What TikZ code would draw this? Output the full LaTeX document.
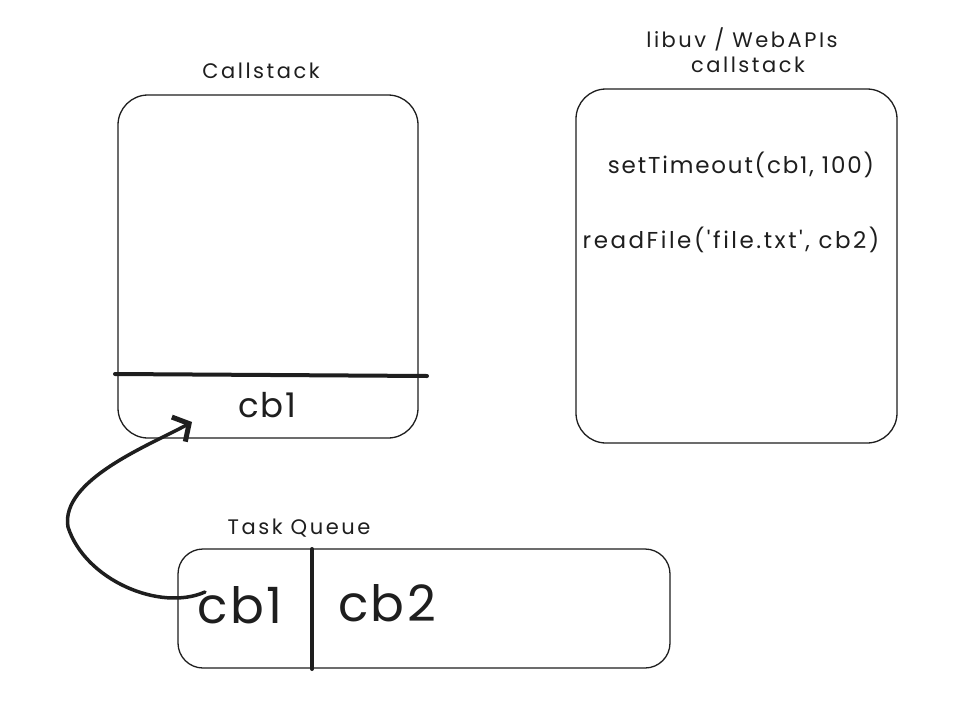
\documentclass[tikz,border=0pt]{standalone}
\usepackage{fontspec}
\setmainfont{Poppins}
\newfontfamily\labelfont[LetterSpace=12]{Poppins}
\newfontfamily\codefont[LetterSpace=8]{Poppins}
\newfontfamily\codewidefont[LetterSpace=11]{Poppins}
\newfontfamily\bigfont[LetterSpace=5]{Poppins}
\usetikzlibrary{arrows.meta}
\definecolor{ink}{HTML}{1E1E1E}
\tikzset{
  box/.style={draw=ink, line width=1.3pt, rounded corners=#1, inner sep=0pt},
  divider/.style={draw=ink, line width=4pt, line cap=round},
  lbl/.style={text=ink, inner sep=0pt, font=\labelfont\fontsize{21}{25}\selectfont},
  code/.style={text=ink, inner sep=0pt, font=\codefont\fontsize{23}{27}\selectfont},
  codewide/.style={text=ink, inner sep=0pt, font=\codewidefont\fontsize{23}{27}\selectfont},
  big/.style={text=ink, inner sep=0pt, font=\bigfont\fontsize{#1}{#1}\selectfont},
  flow/.style={draw=ink, line width=3.5pt, line cap=round, -{Straight Barb[length=12pt,width=28pt,line width=5pt]}}
}
\begin{document}
\begin{tikzpicture}[x=1pt,y=-1pt]
\useasboundingbox[fill=white] (0,0) rectangle (980,720);
% Callstack box
\node[box=30pt, minimum width=300pt, minimum height=343pt] (cs) at (268,266.5) {};
\node[lbl] (cslbl) at (261,71) {Callstack};
\coordinate (csdl) at (115,374);
\coordinate (csdr) at (427,376);
\draw[divider] (csdl) -- (csdr);
\node[big=34] (cscb) at (267,405) {cb1};
% libuv box
\node[box=30pt, minimum width=321pt, minimum height=354pt] (lib) at (736.5,266) {};
\node[lbl, align=center] (liblbl) at (742,50) {libuv / WebAPIs\\\hspace*{12pt}callstack};
\node[code] (st) at (741,165) {setTimeout(cb1, 100)};
\node[codewide] (rf) at (731,240) {readFile('file.txt', cb2)};
% Task queue
\node[box=25pt, minimum width=492pt, minimum height=119pt] (tq) at (424,608.5) {};
\node[lbl] (tqlbl) at (299,528) {Task Queue};
\coordinate (tqdt) at (312,549);
\coordinate (tqdb) at (312,669);
\draw[divider] (tqdt) -- (tqdb);
\node[big=50] (tq1) at (240,605) {cb1};
\node[big=50] (tq2) at (387,603) {cb2};
% arrow
\coordinate (astart) at (205,592);
\coordinate (amid) at (68,527);
\coordinate (aend) at (192,422);
\draw[flow] (astart) .. controls (160,612) and (85,580) .. (amid)
  .. controls (60,480) and (150,445) .. (aend);
\end{tikzpicture}
\end{document}
